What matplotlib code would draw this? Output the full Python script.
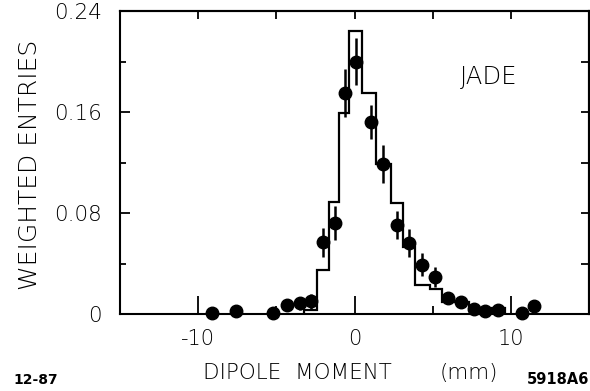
import matplotlib
matplotlib.use("Agg")
import matplotlib.pyplot as plt
from matplotlib import font_manager
from matplotlib.ticker import FixedLocator

# ---------------- data ----------------
hist_edges = [-3.2, -2.39, -1.64, -1.0, -0.32, 0.46, 1.40, 2.35, 3.12, 3.90, 4.80, 5.60, 7.30, 9.60]
hist_vals = [0.003, 0.035, 0.0885, 0.159, 0.224, 0.175, 0.119, 0.0877, 0.053, 0.023, 0.0198, 0.0095, 0.005]

pt_x = [-9.1, -7.6, -5.2, -4.3, -3.5, -2.8, -2.0, -1.25, -0.63, 0.07, 1.03, 1.82,
        2.74, 3.5, 4.34, 5.18, 6.0, 6.83, 7.63, 8.32, 9.16, 10.73, 11.5]
pt_y = [0.001, 0.002, 0.001, 0.007, 0.0085, 0.010, 0.057, 0.072, 0.175, 0.200, 0.152, 0.119,
        0.0705, 0.0565, 0.039, 0.029, 0.013, 0.0097, 0.004, 0.002, 0.003, 0.001, 0.006]
pt_err = [0.002, 0.002, 0.002, 0.004, 0.005, 0.006, 0.0115, 0.0135, 0.019, 0.019, 0.0135, 0.015,
          0.011, 0.011, 0.009, 0.008, 0.004, 0.003, 0.002, 0.002, 0.002, 0.002, 0.003]

x_major = [-10, 0, 10]
x_minor = [-5, 5]
x_top = [-10, -5, 0, 5, 10]
y_major = [0, 0.08, 0.16, 0.24]
y_major_labels = ["0", "0.08", "0.16", "0.24"]
y_minor = [0.04, 0.12, 0.20]
y_right = [0.04, 0.08, 0.12, 0.16, 0.20]

# ---------------- font ----------------
fam = "DejaVu Sans"
weight = "normal"
for f in font_manager.fontManager.ttflist:
    if f.name == "DejaVu Sans" and isinstance(f.weight, int) and f.weight <= 300:
        weight = "light"
        break
plt.rcParams["font.family"] = [fam]

W, H = 590, 391
fig = plt.figure(figsize=(W / 100, H / 100), dpi=100)
L, R, T, B = 120, 589, 11, 314
ax = fig.add_axes([L / W, 1 - B / H, (R - L) / W, (B - T) / H])

ax.set_xlim(-15, 15)
ax.set_ylim(0, 0.24)

ax.stairs(hist_vals, hist_edges, baseline=0, color="black", linewidth=1.6)
ax.errorbar(pt_x, pt_y, yerr=pt_err, fmt="o", color="black", markersize=9,
            elinewidth=1.8, capsize=0, clip_on=False, zorder=5)

for s in ax.spines.values():
    s.set_linewidth(1.5)

# bottom / left ticks
ax.xaxis.set_major_locator(FixedLocator(x_major))
ax.xaxis.set_minor_locator(FixedLocator(x_minor))
ax.yaxis.set_major_locator(FixedLocator(y_major))
ax.yaxis.set_minor_locator(FixedLocator(y_minor))
ax.set_yticklabels(y_major_labels)
ax.set_xticklabels([str(v) for v in x_major])
ax.tick_params(axis="x", which="major", direction="in", length=13, width=1.3, pad=11,
               labelsize=15, top=False)
ax.tick_params(axis="x", which="minor", direction="in", length=6, width=1.3, top=False)
ax.tick_params(axis="y", which="major", direction="in", length=7, width=1.3, pad=13,
               labelsize=15.5, right=False)
ax.tick_params(axis="y", which="minor", direction="in", length=4.5, width=1.3, right=False)
for lab in ax.get_xticklabels() + ax.get_yticklabels():
    lab.set_fontweight(weight)

# top / right ticks
sx = ax.secondary_xaxis("top")
sx.set_xticks(x_top)
sx.tick_params(direction="in", length=6, width=1.3, labeltop=False)
sx.spines["top"].set_linewidth(1.5)
sy = ax.secondary_yaxis("right")
sy.set_yticks(y_right)
sy.tick_params(direction="in", length=6, width=1.3, labelright=False)
sy.spines["right"].set_linewidth(1.5)

ax.text(489 / W, 1 - 77 / H, "JADE", transform=fig.transFigure, ha="center", va="center",
        fontsize=17.5, fontweight=weight)

fig.text(30 / W, 1 - 165 / H, "WEIGHTED ENTRIES", rotation=90, ha="center", va="center",
         fontsize=18, fontweight=weight)
fig.text(203 / W, 1 - 373 / H, "DIPOLE  MOMENT", ha="left", va="center",
         fontsize=15.5, fontweight=weight)
fig.text(440 / W, 1 - 373 / H, "(mm)", ha="left", va="center",
         fontsize=15.5, fontweight=weight)
fig.text(589 / W, 1 - 379 / H, "5918A6", ha="right", va="center",
         fontsize=10.5, fontweight="bold")
fig.text(13 / W, 1 - 380 / H, "12-87", ha="left", va="center",
         fontsize=10, fontweight="bold")

fig.savefig("out.png", dpi=100, facecolor="white")
